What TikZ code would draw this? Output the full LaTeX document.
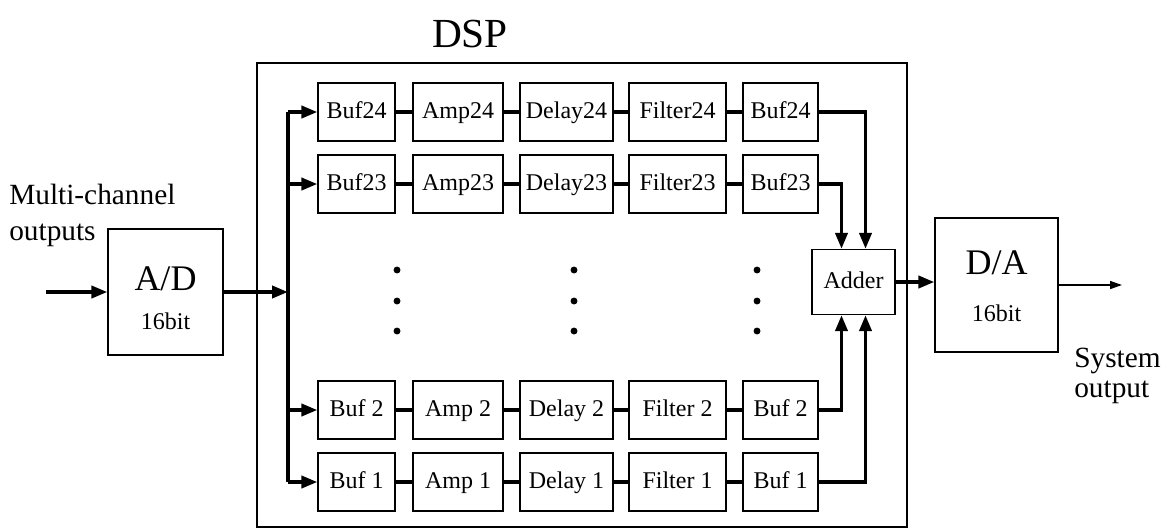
\documentclass[tikz,border=0pt]{standalone}
\usepackage{fontspec}
\setmainfont{Liberation Serif}
\usetikzlibrary{arrows.meta}

\begin{document}
\begin{tikzpicture}[x=0.75pt,y=0.75pt,yscale=-1,xscale=1,
  blk/.style={draw,line width=0.9pt,minimum height=43.5pt,inner sep=0pt,text height=12.5pt,text depth=3.5pt,font=\fontsize{18}{20}\selectfont},
  link/.style={line width=2.8pt},
  feed/.style={line width=2.8pt,-{Triangle[length=12pt,width=9pt]}},
  thinfeed/.style={line width=1.1pt,-{Triangle[length=9pt,width=6pt]}}]
\useasboundingbox (0,0) rectangle (1162,529);

% Text Node
\node (title) [font=\fontsize{31}{31}\selectfont] at (470,34) {DSP};
%Shape: Rectangle
\draw [line width=0.9pt] (257,63) rectangle (907,527);

%Channels
\foreach \r/\yy/\s in {24/112/24, 23/184/23, 2/410/~2, 1/482/~1} {
  \node (b\r) [blk,minimum width=57.75pt] at (356.5,\yy) {Buf\s};
  \node (a\r) [blk,minimum width=67.5pt] at (458,\yy) {Amp\s};
  \node (d\r) [blk,minimum width=69.75pt] at (566.5,\yy) {Delay\s};
  \node (f\r) [blk,minimum width=72.75pt] at (677.5,\yy) {Filter\s};
  \node (o\r) [blk,minimum width=56.25pt] at (780.5,\yy) {Buf\s};
  \draw [link] (b\r) -- (a\r);
  \draw [link] (a\r) -- (d\r);
  \draw [link] (d\r) -- (f\r);
  \draw [link] (f\r) -- (o\r);
}

%Dots
\foreach \xx in {397,574,757}
  \foreach \yy in {270,301,331}
    \fill (\xx,\yy) circle (2.6pt);

%Converters and adder
\node (ad) [blk,minimum width=86.25pt,minimum height=94.5pt] at (165.5,292) {};
\node (adname) [font=\fontsize{27}{27}\selectfont] at (165.5,279) {A/D};
\node (adbits) [font=\fontsize{18}{18}\selectfont] at (165.5,321) {16bit};
\node (add) [blk,minimum width=62.25pt,minimum height=48.75pt] at (853.5,282) {Adder};
\node (da) [blk,minimum width=92.25pt,minimum height=100.5pt] at (996.5,285) {};
\node (daname) [font=\fontsize{27}{27}\selectfont] at (996.5,263) {D/A};
\node (dabits) [font=\fontsize{18}{18}\selectfont] at (996.5,313) {16bit};

% Text Node
\node (mctext) [anchor=north west,align=left,inner sep=0pt,font=\fontsize{22}{27}\selectfont] at (9,184) {Multi-channel\\outputs};
% Text Node
\node (systext) [anchor=north west,align=left,inner sep=0pt,font=\fontsize{22}{22.5}\selectfont] at (1074,348) {System\\output};

%Bus
\coordinate (mcin) at (46,292);
\coordinate (bustop) at (288,112);
\coordinate (busbot) at (288,482);
\coordinate (sysout) at (1122,285);
\draw [feed] (mcin) -- (ad.west);
\draw [feed] (ad.east) -- (ad.east -| bustop);
\draw [link] (bustop) -- (busbot);
\foreach \r in {24,23,2,1}
  \draw [feed] (b\r.west -| bustop) -- (b\r.west);

%Lines to adder
\draw [feed] (o24.east) -| ([xshift=9pt]add.north);
\draw [feed] (o23.east) -| ([xshift=-9pt]add.north);
\draw [feed] (o2.east) -| ([xshift=-9pt]add.south);
\draw [feed] (o1.east) -| ([xshift=9pt]add.south);
\draw [feed] (add.east) -- (add.east -| da.west);
\draw [thinfeed] (da.east) -- (sysout);

\end{tikzpicture}
\end{document}
